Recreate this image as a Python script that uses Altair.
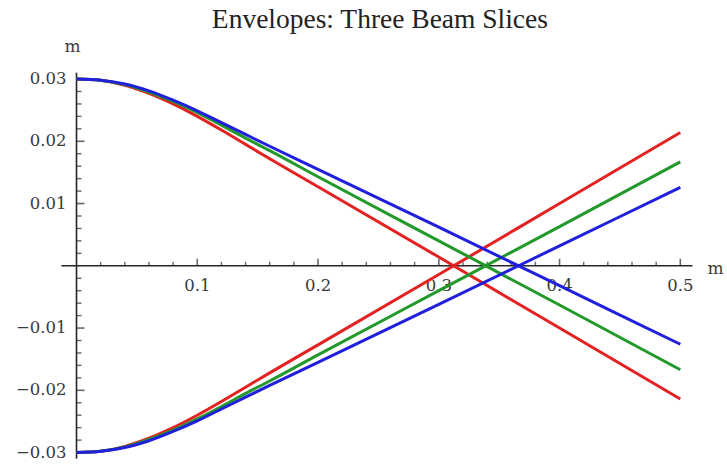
import altair as alt
import pandas as pd

# Beam envelopes (m) versus position along the beam line (m)
s = [0.00, 0.02, 0.04, 0.06, 0.08, 0.10, 0.12, 0.14, 0.16, 0.20, 0.30, 0.40, 0.50]

red_upper = [0.0300, 0.0298, 0.0290, 0.0277, 0.0260, 0.0240, 0.0218, 0.0195, 0.0172, 0.0127, 0.0014, -0.0100, -0.0214]
red_lower = [-0.0300, -0.0298, -0.0290, -0.0277, -0.0260, -0.0240, -0.0218, -0.0195, -0.0172, -0.0127, -0.0014, 0.0100, 0.0214]
green_upper = [0.0300, 0.0298, 0.0291, 0.0279, 0.0264, 0.0246, 0.0226, 0.0205, 0.0185, 0.0143, 0.0040, -0.0063, -0.0167]
green_lower = [-0.0300, -0.0298, -0.0291, -0.0279, -0.0264, -0.0246, -0.0226, -0.0205, -0.0185, -0.0143, -0.0040, 0.0063, 0.0167]
blue_upper = [0.0300, 0.0298, 0.0292, 0.0281, 0.0266, 0.0249, 0.0230, 0.0211, 0.0192, 0.0155, 0.0062, -0.0032, -0.0126]
blue_lower = [-0.0300, -0.0298, -0.0292, -0.0281, -0.0266, -0.0249, -0.0230, -0.0211, -0.0192, -0.0155, -0.0062, 0.0032, 0.0126]

series = [
    ("#e42222", red_upper, red_lower),
    ("#22992a", green_upper, green_lower),
    ("#2020dc", blue_upper, blue_lower),
]

# Axis ticks and labels
x_major = [0.1, 0.2, 0.3, 0.4, 0.5]
x_labels = ["0.1", "0.2", "0.3", "0.4", "0.5"]
x_minor = [k * 0.02 for k in range(1, 26) if k % 5 != 0]
y_major = [0.03, 0.02, 0.01, -0.01, -0.02, -0.03]
y_labels = ["0.03", "0.02", "0.01", "\u22120.01", "\u22120.02", "\u22120.03"]
y_minor = [k * 0.002 for k in range(-15, 16) if k % 5 != 0]

TITLE = "Envelopes: Three Beam Slices"

W, H = 631, 386
x_scale = alt.Scale(domain=[-0.0125, 0.51], nice=False, zero=False)
y_scale = alt.Scale(domain=[-0.031, 0.031], nice=False, zero=False)
AXIS = "#262626"
LABEL = "#3a3a3a"
FONT = "DejaVu Serif"


def xenc(field="v"):
    return alt.X(f"{field}:Q", scale=x_scale, axis=None)


def yenc(field="v"):
    return alt.Y(f"{field}:Q", scale=y_scale, axis=None)


one = pd.DataFrame({"v": [0]})

x_axis_line = alt.Chart(one).mark_rule(color=AXIS, strokeWidth=1.6).encode(
    x=alt.value(0), x2=alt.value(W), y=yenc()
)
y_axis_line = alt.Chart(one).mark_rule(color=AXIS, strokeWidth=1.6).encode(
    x=xenc(), y=alt.value(0), y2=alt.value(H)
)

x_major_ticks = alt.Chart(pd.DataFrame({"v": x_major, "z": 0})).mark_tick(
    orient="vertical", size=7, thickness=1.6, yOffset=-3.5, color=AXIS
).encode(x=xenc(), y=yenc("z"))
x_minor_ticks = alt.Chart(pd.DataFrame({"v": x_minor, "z": 0})).mark_tick(
    orient="vertical", size=4, thickness=1.4, yOffset=-2, color=AXIS
).encode(x=xenc(), y=yenc("z"))
y_major_ticks = alt.Chart(pd.DataFrame({"v": y_major, "z": 0})).mark_tick(
    orient="horizontal", size=8, thickness=1.6, xOffset=4, color=AXIS
).encode(y=yenc(), x=xenc("z"))
y_minor_ticks = alt.Chart(pd.DataFrame({"v": y_minor, "z": 0})).mark_tick(
    orient="horizontal", size=5, thickness=1.4, xOffset=2.5, color=AXIS
).encode(y=yenc(), x=xenc("z"))

x_tick_text = alt.Chart(pd.DataFrame({"v": x_major, "t": x_labels, "z": 0})).mark_text(
    font=FONT, fontSize=16.5, color=LABEL, baseline="middle", align="center", dy=20
).encode(x=xenc(), y=yenc("z"), text="t:N")
y_tick_text = alt.Chart(pd.DataFrame({"v": y_major, "t": y_labels, "z": 0})).mark_text(
    font=FONT, fontSize=16.5, color=LABEL, baseline="middle", align="right", dx=-10
).encode(y=yenc(), x=xenc("z"), text="t:N")

y_unit = alt.Chart(pd.DataFrame({"v": [0.031], "z": [0], "t": ["m"]})).mark_text(
    font=FONT, fontSize=17, color=LABEL, baseline="middle", align="center", dx=-4, dy=-26
).encode(y=yenc(), x=xenc("z"), text="t:N")
x_unit = alt.Chart(pd.DataFrame({"v": [0.51], "z": [0], "t": ["m"]})).mark_text(
    font=FONT, fontSize=17, color=LABEL, baseline="middle", align="left", dx=15, dy=3
).encode(x=xenc(), y=yenc("z"), text="t:N")

# Title drawn as a text mark centred above the plot area
title_mark = alt.Chart(pd.DataFrame({"t": [TITLE]})).mark_text(
    font="Liberation Serif", fontSize=27.5, color="#222222",
    baseline="middle", align="center",
).encode(x=alt.value(W / 2 + 3), y=alt.value(-53), text="t:N")

line_layers = []
for color, upper, lower in series:
    rows = [{"s": a, "val": b, "branch": "upper"} for a, b in zip(s, upper)]
    rows += [{"s": a, "val": b, "branch": "lower"} for a, b in zip(s, lower)]
    line_layers.append(
        alt.Chart(pd.DataFrame(rows)).mark_line(
            interpolate="monotone", strokeWidth=3, color=color
        ).encode(
            x=alt.X("s:Q", scale=x_scale, axis=None),
            y=alt.Y("val:Q", scale=y_scale, axis=None),
            detail="branch:N",
            order="s:Q",
        )
    )

chart = alt.layer(
    x_axis_line, y_axis_line,
    x_minor_ticks, x_major_ticks, y_minor_ticks, y_major_ticks,
    x_tick_text, y_tick_text, y_unit, x_unit, title_mark,
    *line_layers,
).properties(
    width=W,
    height=H,
    autosize=alt.AutoSizeParams(type="none"),
    padding={"left": 61.4, "top": 72.8, "right": 34.6, "bottom": 7.1},
    background="white",
).configure_view(stroke=None)

chart.save("out.html", embed_options={"renderer": "svg", "actions": False})
